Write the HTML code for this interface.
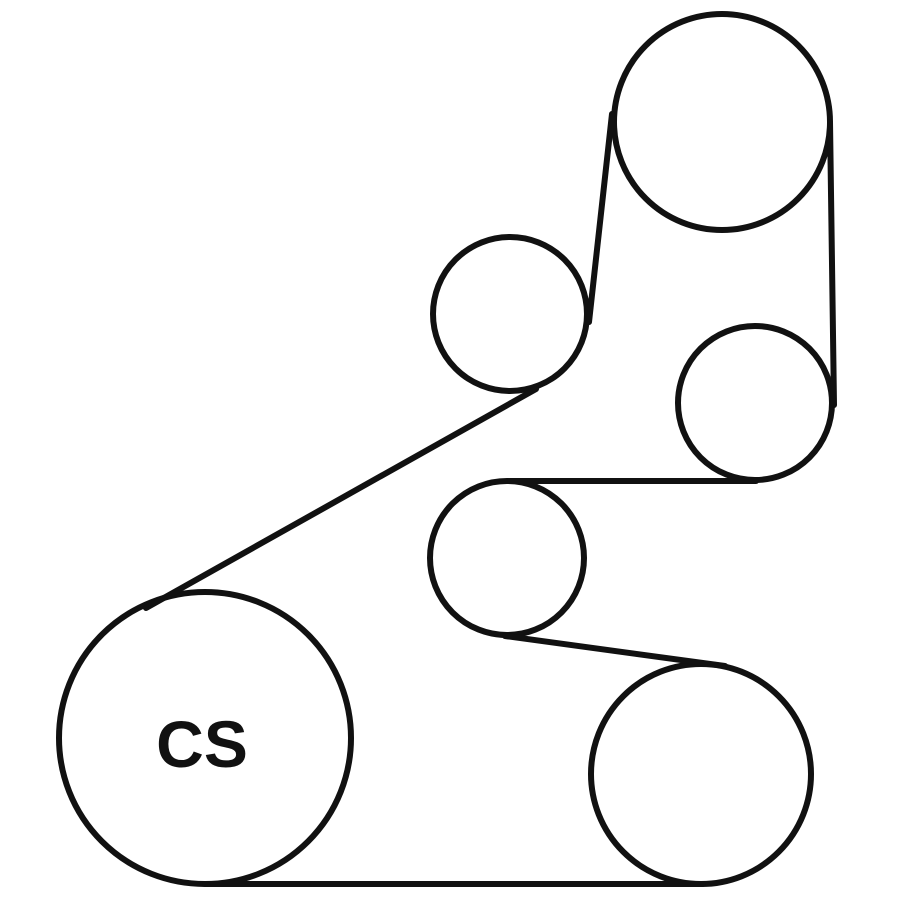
<!DOCTYPE html>
<html><head><style>html,body{margin:0;padding:0;background:#fff}</style></head>
<body>
<svg width="900" height="900" viewBox="0 0 900 900" xmlns="http://www.w3.org/2000/svg">
<g fill="none" stroke="#111" stroke-width="6" stroke-linecap="round">
<circle cx="722" cy="122" r="108"/>
<circle cx="510" cy="314" r="77"/>
<circle cx="755" cy="403" r="77"/>
<circle cx="507" cy="558" r="77"/>
<circle cx="205" cy="738" r="146"/>
<circle cx="701" cy="774" r="110"/>
<line x1="146" y1="608" x2="536" y2="389"/>
<line x1="589" y1="322" x2="612" y2="114"/>
<line x1="830" y1="122" x2="834" y2="405"/>
<line x1="756" y1="481" x2="510" y2="481"/>
<line x1="505" y1="636" x2="725" y2="666"/>
<line x1="703" y1="884" x2="205" y2="884"/>
</g>
<text x="202" y="767" font-family="Liberation Sans, sans-serif" font-weight="bold" font-size="66" text-anchor="middle" fill="#111">CS</text>
</svg>
</body></html>
